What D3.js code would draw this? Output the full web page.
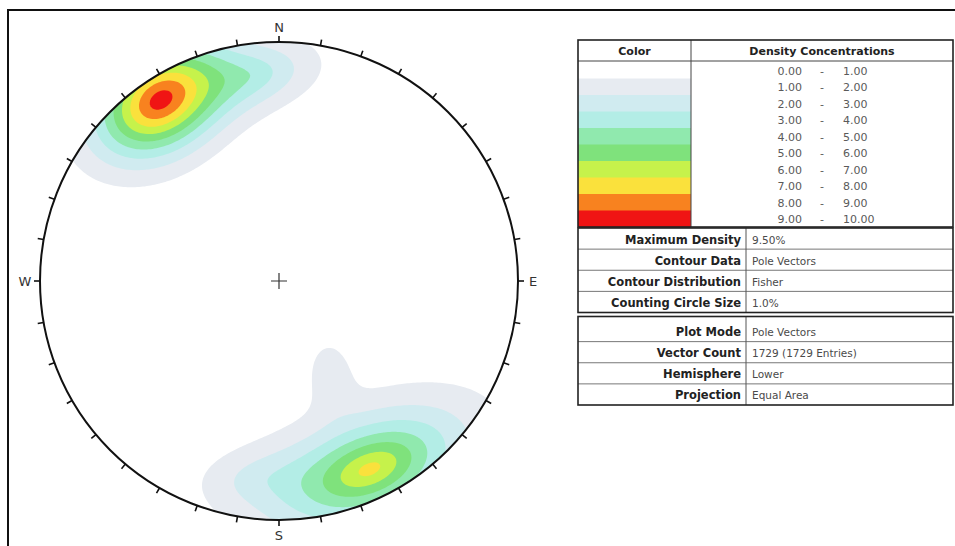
<!DOCTYPE html>
<html>
<head>
<meta charset="utf-8">
<script src="https://cdn.jsdelivr.net/npm/d3@7"></script>
<style>
  body { margin: 0; background: #fff; }
  svg { display: block; }
  text { font-family: 'DejaVu Sans', Verdana, sans-serif; }
</style>
</head>
<body>
<svg id="chart" width="955" height="546"></svg>
<script>
// density bands (percent) and their fills
const bandFrom = [0, 1, 2, 3, 4, 5, 6, 7, 8, 9];
const bandTo = [1, 2, 3, 4, 5, 6, 7, 8, 9, 10];
const bandColors = ['#ffffff', '#e7ebf1', '#d0ebf0', '#b3ede6', '#90e9ae', '#7fe27c', '#c6f24b', '#fae13c', '#f8821f', '#f01414'];

// pole concentrations (u east, v north, in net radii)
const compU = [-0.502, -0.100, 0.381, -0.100, 0.213];
const compV = [0.753, 0.862, -0.787, -0.824, -0.381];
const compMajor = [0.275, 0.27, 0.36, 0.251, 0.14];
const compMinor = [0.2, 0.14, 0.19, 0.13, 0.09];
const compAngle = [34, 12, 22, 5, 95];
const compPeak = [9.13, 2.8, 7.35, 1.4, 1.6];
const compShape = [1.7, 1.7, 1.4, 1.7, 1.7];

const directions = ['N', 'E', 'S', 'W'];

const statLabels = ['Maximum Density', 'Contour Data', 'Contour Distribution', 'Counting Circle Size'];
const statValues = ['9.50%', 'Pole Vectors', 'Fisher', '1.0%'];
const plotLabels = ['Plot Mode', 'Vector Count', 'Hemisphere', 'Projection'];
const plotValues = ['Pole Vectors', '1729 (1729 Entries)', 'Lower', 'Equal Area'];

drawNet();
drawLegend();

function drawNet() {
    const svg = d3.select('#chart');
    const cx = 279, cy = 281, R = 239;
    const x = d3.scaleLinear().domain([-1, 1]).range([cx - R, cx + R]);
    const y = d3.scaleLinear().domain([-1, 1]).range([cy + R, cy - R]);

    // outer frame of the screenshot
    svg.append('path')
        .attr('d', 'M8,546V10H955')
        .attr('fill', 'none')
        .attr('stroke', '#111')
        .attr('stroke-width', 2);

    svg.append('clipPath')
        .attr('id', 'net-clip')
        .append('circle')
        .attr('cx', x(0))
        .attr('cy', y(0))
        .attr('r', R);

    // density grid from the concentrations
    const n = 260, ext = 1.05;
    const gx = d3.scaleLinear().domain([0, n]).range([-ext, ext]);
    const gy = d3.scaleLinear().domain([0, n]).range([ext, -ext]);
    const values = new Array(n * n);
    for (let j = 0; j < n; j++) {
        for (let i = 0; i < n; i++) {
            const u = gx(i + 0.5), v = gy(j + 0.5);
            let sum = 0;
            compU.forEach((cu, k) => {
                const t = compAngle[k] * Math.PI / 180;
                const du = u - cu, dv = v - compV[k];
                const a = (du * Math.cos(t) + dv * Math.sin(t)) / compMajor[k];
                const b = (-du * Math.sin(t) + dv * Math.cos(t)) / compMinor[k];
                sum += compPeak[k] * Math.exp(-Math.pow(Math.sqrt(a * a + b * b), compShape[k]));
            });
            values[j * n + i] = sum;
        }
    }

    const gridToPx = d3.geoTransform({
        point(px, py) { this.stream.point(x(gx(px)), y(gy(py))); }
    });
    const path = d3.geoPath(gridToPx);
    const bands = d3.contours().size([n, n]).thresholds(bandFrom.slice(1))(values);

    svg.append('g')
        .attr('clip-path', 'url(#net-clip)')
        .selectAll('path')
        .data(bands)
        .enter()
        .append('path')
        .attr('d', path)
        .attr('fill', (d, i) => bandColors[i + 1]);

    // primitive circle
    svg.append('circle')
        .attr('cx', x(0))
        .attr('cy', y(0))
        .attr('r', R)
        .attr('fill', 'none')
        .attr('stroke', '#111')
        .attr('stroke-width', 2);

    // 10 degree ticks
    const tickLen = 6 / R;
    svg.append('g')
        .selectAll('line')
        .data(d3.range(0, 360, 10))
        .enter()
        .append('line')
        .attr('x1', (d) => x(Math.sin(d * Math.PI / 180)))
        .attr('y1', (d) => y(Math.cos(d * Math.PI / 180)))
        .attr('x2', (d) => x((1 + tickLen) * Math.sin(d * Math.PI / 180)))
        .attr('y2', (d) => y((1 + tickLen) * Math.cos(d * Math.PI / 180)))
        .attr('stroke', '#111')
        .attr('stroke-width', 1.6);

    const labelR = 1 + 15 / R;
    svg.append('g')
        .selectAll('text')
        .data(directions)
        .enter()
        .append('text')
        .attr('x', (d, i) => x(labelR * Math.sin(i * Math.PI / 2)))
        .attr('y', (d, i) => y(labelR * Math.cos(i * Math.PI / 2)))
        .attr('text-anchor', 'middle')
        .attr('dominant-baseline', 'central')
        .attr('font-size', 13)
        .attr('fill', '#333')
        .text((d) => d);

    // centre cross
    const c = 8 / R;
    svg.append('path')
        .attr('d', `M${x(-c)},${y(0)}H${x(c)}M${x(0)},${y(-c)}V${y(c)}`)
        .attr('stroke', '#333')
        .attr('stroke-width', 1.2);
}

function drawLegend() {
    const svg = d3.select('#chart');
    const left = 578, right = 953, colDiv = 691, labelDiv = 746;
    const top = 40, headH = 21, swH = 16.5;
    const g = svg.append('g');

    // colour swatches and ranges
    const sy = d3.scaleLinear().domain([0, bandFrom.length]).range([top + headH + 1, top + headH + 1 + swH * bandFrom.length]);
    g.selectAll('rect.sw')
        .data(bandColors)
        .enter()
        .append('rect')
        .attr('class', 'sw')
        .attr('x', left)
        .attr('y', (d, i) => sy(i))
        .attr('width', colDiv - left)
        .attr('height', swH + 0.5)
        .attr('fill', (d) => d);

    const rows = g.selectAll('g.rng')
        .data(bandFrom)
        .enter()
        .append('g')
        .attr('class', 'rng')
        .attr('transform', (d, i) => `translate(0,${sy(i) + swH / 2 + 1})`)
        .attr('font-size', 11)
        .attr('fill', '#5a5a5a')
        .attr('dominant-baseline', 'central');
    rows.append('text').attr('x', 802).attr('text-anchor', 'end').text((d) => d.toFixed(2));
    rows.append('text').attr('x', 822).attr('text-anchor', 'middle').text('-');
    rows.append('text').attr('x', 843).text((d, i) => bandTo[i].toFixed(2));

    const bottom = sy(bandFrom.length);
    g.append('text')
        .attr('x', (left + colDiv) / 2).attr('y', top + headH / 2 + 1)
        .attr('text-anchor', 'middle').attr('dominant-baseline', 'central')
        .attr('font-size', 11).attr('font-weight', 'bold').attr('fill', '#222')
        .text('Color');
    g.append('text')
        .attr('x', (colDiv + right) / 2).attr('y', top + headH / 2 + 1)
        .attr('text-anchor', 'middle').attr('dominant-baseline', 'central')
        .attr('font-size', 11).attr('font-weight', 'bold').attr('fill', '#222')
        .text('Density Concentrations');

    g.append('line').attr('x1', left).attr('x2', right).attr('y1', top + headH).attr('y2', top + headH)
        .attr('stroke', '#444').attr('stroke-width', 1);
    g.append('line').attr('x1', colDiv).attr('x2', colDiv).attr('y1', top).attr('y2', bottom)
        .attr('stroke', '#444').attr('stroke-width', 1);
    g.append('rect').attr('x', left).attr('y', top).attr('width', right - left).attr('height', bottom - top)
        .attr('fill', 'none').attr('stroke', '#222').attr('stroke-width', 1.6);

    drawInfo(g, statLabels, statValues, bottom + 1, bottom + 1, 312.5);
    drawInfo(g, plotLabels, plotValues, 316.5, 320.5, 405);

    function drawInfo(g, labels, vals, yTop, y0, y1) {
        const ry = d3.scaleLinear().domain([0, labels.length]).range([y0, y1]);
        const h = ry(1) - ry(0);
        g.selectAll(null)
            .data(labels.slice(1))
            .enter()
            .append('line')
            .attr('x1', left).attr('x2', right)
            .attr('y1', (d, i) => ry(i + 1)).attr('y2', (d, i) => ry(i + 1))
            .attr('stroke', '#777').attr('stroke-width', 1);
        g.append('line').attr('x1', labelDiv).attr('x2', labelDiv).attr('y1', yTop).attr('y2', y1)
            .attr('stroke', '#555').attr('stroke-width', 1);
        g.append('rect').attr('x', left).attr('y', yTop).attr('width', right - left).attr('height', y1 - yTop)
            .attr('fill', 'none').attr('stroke', '#222').attr('stroke-width', 1.6);
        g.selectAll(null)
            .data(labels)
            .enter()
            .append('text')
            .attr('x', labelDiv - 5).attr('y', (d, i) => ry(i) + h / 2 + 1)
            .attr('text-anchor', 'end').attr('dominant-baseline', 'central')
            .attr('font-size', 11.5).attr('font-weight', 'bold').attr('fill', '#222')
            .text((d) => d);
        g.selectAll(null)
            .data(vals)
            .enter()
            .append('text')
            .attr('x', labelDiv + 6).attr('y', (d, i) => ry(i) + h / 2 + 1)
            .attr('dominant-baseline', 'central')
            .attr('font-size', 10.5).attr('fill', '#4a4a4a')
            .text((d) => d);
    }
}
</script>
</body>
</html>
